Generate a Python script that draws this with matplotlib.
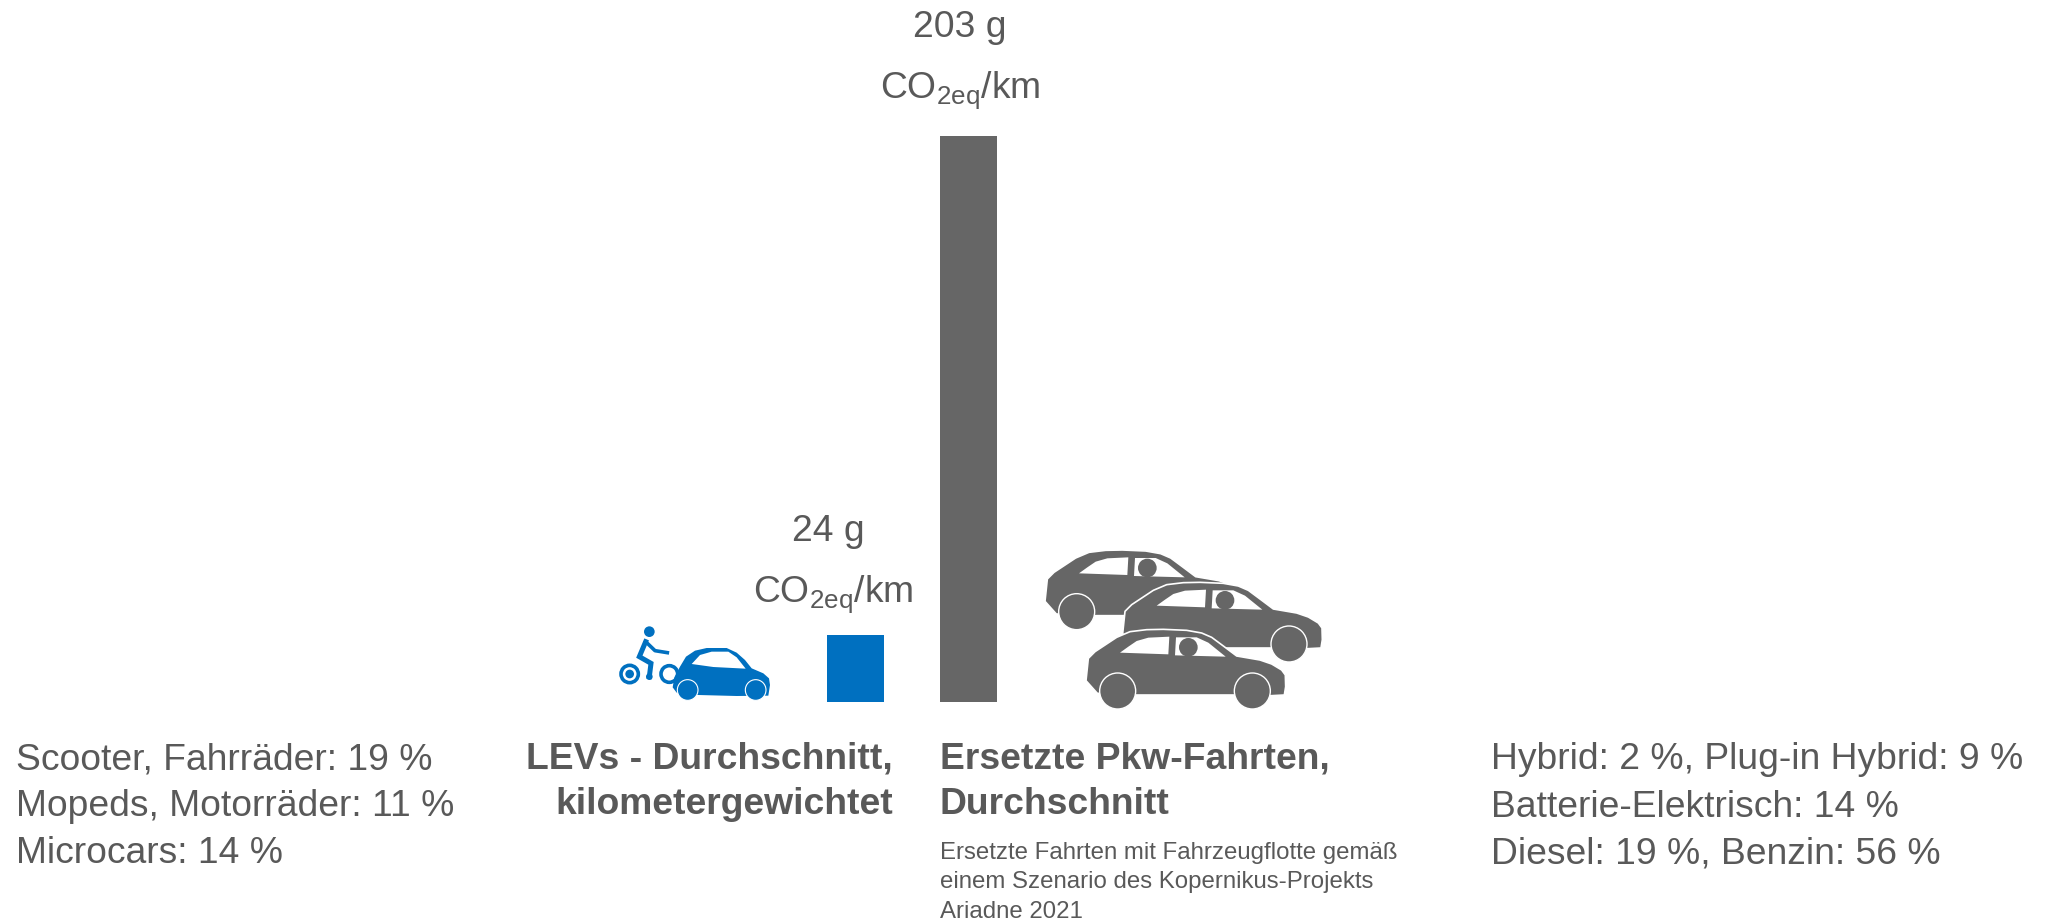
import matplotlib
matplotlib.use("Agg")
import matplotlib.pyplot as plt
from matplotlib.patches import Polygon, Circle

plt.rcParams['font.family'] = ['Liberation Sans', 'DejaVu Sans']
plt.rcParams['mathtext.fontset'] = 'custom'
plt.rcParams['mathtext.rm'] = 'Liberation Sans'
plt.rcParams['mathtext.default'] = 'regular'

categories = ["LEVs - Durchschnitt,\nkilometergewichtet", "Ersetzte Pkw-Fahrten,\nDurchschnitt"]
values = [24, 203]
bar_colors = ["#0070C0", "#666666"]
unit_label = "CO$_{2eq}$/km"
left_lines = ["Scooter, Fahrräder: 19 %", "Mopeds, Motorräder: 11 %", "Microcars: 14 %"]
right_lines = ["Hybrid: 2 %, Plug-in Hybrid: 9 %", "Batterie-Elektrisch: 14 %", "Diesel: 19 %, Benzin: 56 %"]
note_lines = ["Ersetzte Fahrten mit Fahrzeugflotte gemäß", "einem Szenario des Kopernikus-Projekts", "Ariadne 2021"]

W, H = 2047, 923
TXT = "#595959"
GRAY = "#666666"
BLUE = "#0070C0"
fig = plt.figure(figsize=(W / 100, H / 100), dpi=100, facecolor="white")

# overlay in pixel coordinates for icons and text
ov = fig.add_axes([0, 0, 1, 1])
ov.set_xlim(0, W)
ov.set_ylim(H, 0)
ov.axis("off")

# bars
ax = fig.add_axes([799 / W, (H - 702) / H, 226 / W, 566 / H])
ax.bar([0, 1], values, width=0.504, color=bar_colors)
ax.set_xlim(-0.5, 1.5)
ax.set_ylim(0, 203)
ax.axis("off")
ax.patch.set_alpha(0)


def t(x, y, s, size=26.8, ha="left", weight="normal"):
    ov.text(x, y, s, fontsize=size, ha=ha, va="baseline", color=TXT, fontweight=weight)


# value labels
t(960, 37, f"{values[1]} g", ha="center")
t(960, 98, unit_label, ha="center")
t(828, 541, f"{values[0]} g", ha="center")
t(833, 602, unit_label, ha="center")

# column texts
for y, s in zip([769, 816, 863], left_lines):
    t(16, y, s)
for y, s in zip([769, 817, 864], right_lines):
    t(1491, y, s)
for y, s in zip([769, 814], categories[0].split("\n")):
    t(893, y, s, ha="right", weight="bold")
for y, s in zip([769, 814], categories[1].split("\n")):
    t(940, y, s, weight="bold")
for y, s in zip([859, 888, 918], note_lines):
    t(940, y, s, size=17.25)

# --- icons ---
CAR = [(198, 452), (205, 385), (225, 365), (290, 322), (330, 305), (380, 299), (430, 298), (500, 301),
       (545, 309), (575, 322), (610, 348), (650, 378), (720, 390), (755, 402), (785, 420), (796, 435),
       (797, 470), (793, 495), (755, 497), (640, 495), (350, 495), (232, 490)]
WIN1 = [(300, 368), (325, 350), (350, 333), (385, 323), (448, 320), (445, 373)]
WIN2 = [(468, 322), (530, 322), (565, 338), (617, 380), (465, 376)]
HEAD = (505, 352, 28)
WHEELS = [(293, 483), (697, 483)]


def zc(x, y):
    return 1020 + x / 3, 530 + y / 3


def car(dx, dy, z, wheels):
    pts = [zc(x + dx, y + dy) for x, y in CAR]
    ov.add_patch(Polygon(pts, closed=True, fc=GRAY, ec="white", lw=1.2, joinstyle="round", zorder=z))
    for w in (WIN1, WIN2):
        ov.add_patch(Polygon([zc(x + dx, y + dy) for x, y in w], closed=True, fc="white", ec="none", zorder=z))
    hx, hy = zc(HEAD[0] + dx, HEAD[1] + dy)
    ov.add_patch(Circle((hx, hy), HEAD[2] / 3, fc=GRAY, ec="none", zorder=z))
    for wx, wy in wheels:
        cx, cy = zc(wx + dx, wy + dy)
        ov.add_patch(Circle((cx, cy), 54 / 3, fc=GRAY, ec="white", lw=1.0, zorder=z))


car(-123, -238, 3, WHEELS[:1])
car(110, -141, 4, WHEELS[1:])
car(0, 0, 5, WHEELS)


def zb(x, y):
    return 580 + x / 3, 600 + y / 3


# cyclist
hx, hy = zb(208, 95)
ov.add_patch(Circle((hx, hy), 16 / 3, fc=BLUE, ec="none", zorder=3))
ov.plot(*zip(*[zb(197, 125), zb(178, 170), zb(213, 190), zb(208, 230)]), color=BLUE, lw=3.6,
        solid_joinstyle="miter", zorder=3)
ov.plot(*zip(*[zb(197, 125), zb(225, 152), zb(262, 158)]), color=BLUE, lw=2.6, zorder=3)
cx, cy = zb(208, 230)
ov.add_patch(Circle((cx, cy), 10 / 3, fc=BLUE, ec="none", zorder=3))
cx, cy = zb(149, 222)
ov.add_patch(Circle((cx, cy), 26 / 3, fc="white", ec=BLUE, lw=2.6, zorder=3))
ov.add_patch(Circle((cx, cy), 13 / 3, fc=BLUE, ec="none", zorder=3))
cx, cy = zb(268, 222)
ov.add_patch(Circle((cx, cy), 25 / 3, fc="white", ec=BLUE, lw=2.6, zorder=3))

# small blue car
BODY = [(278, 262), (283, 232), (300, 200), (318, 170), (345, 152), (380, 144), (440, 144), (470, 158),
        (495, 180), (515, 205), (550, 220), (567, 235), (570, 255), (565, 287), (470, 288), (355, 285), (290, 278)]
ov.add_patch(Polygon([zb(*p) for p in BODY], closed=True, fc=BLUE, ec="none", zorder=4))
WIN = [(335, 192), (360, 165), (395, 155), (445, 155), (470, 172), (497, 206), (400, 201)]
ov.add_patch(Polygon([zb(*p) for p in WIN], closed=True, fc="white", ec="none", zorder=5))
for p in [(323, 270), (527, 270)]:
    cx, cy = zb(*p)
    ov.add_patch(Circle((cx, cy), 31 / 3, fc=BLUE, ec="white", lw=0.8, zorder=5))

fig.savefig("out.png", dpi=100, facecolor="white")
